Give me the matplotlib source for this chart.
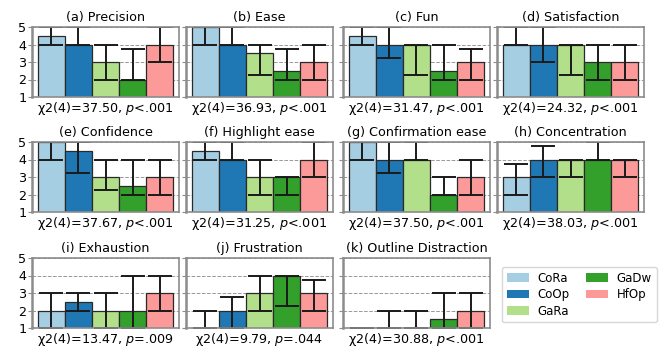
import matplotlib

matplotlib.use("Agg")

import matplotlib.pyplot as plt
import numpy as np
from matplotlib.patches import Patch

conditions = ["CoRa", "CoOp", "GaRa", "GaDw", "HfOp"]
colors = ["#a6cee3", "#1f78b4", "#b2df8a", "#33a02c", "#fb9a99"]

titles = [
    "(a) Precision", "(b) Ease", "(c) Fun", "(d) Satisfaction",
    "(e) Confidence", "(f) Highlight ease", "(g) Confirmation ease", "(h) Concentration",
    "(i) Exhaustion", "(j) Frustration", "(k) Outline Distraction",
]
chi2 = ["37.50", "36.93", "31.47", "24.32", "37.67", "31.25", "37.50", "38.03", "13.47", "9.79", "30.88"]
pvals = ["<.001", "<.001", "<.001", "<.001", "<.001", "<.001", "<.001", "<.001", "=.009", "=.044", "<.001"]

# medians per condition
medians = [
    [4.5, 4, 3, 2, 4],
    [5, 4, 3.5, 2.5, 3],
    [4.5, 4, 4, 2.5, 3],
    [4, 4, 4, 3, 3],
    [5, 4.5, 3, 2.5, 3],
    [4.5, 4, 3, 3, 4],
    [5, 4, 4, 2, 3],
    [3, 4, 4, 4, 4],
    [2, 2.5, 2, 2, 3],
    [1, 2, 3, 4, 3],
    [1, 1, 1, 1.5, 2],
]
# interquartile range ends
q1 = [
    [4, 4, 2, 2, 3],
    [4, 4, 2.25, 2, 2],
    [4, 3.25, 2.25, 2, 2],
    [4, 3, 2.25, 2, 2],
    [4, 3.25, 2.25, 2, 2],
    [4, 4, 2, 2, 3],
    [4, 3.25, 4, 2, 2],
    [2, 3, 3, 4, 3],
    [1, 2, 1, 1, 2],
    [1, 1, 2, 2.25, 2],
    [1, 1, 1, 1, 1],
]
q3 = [
    [5, 5, 4, 3.75, 5],
    [5, 5, 4, 3.75, 4],
    [5, 5, 4, 4, 3.75],
    [5, 5, 4, 4, 4],
    [5, 5, 4, 4, 4],
    [5, 5, 4, 3, 5],
    [5, 5, 5, 3, 4],
    [3.75, 4.75, 4, 5, 4],
    [3, 3, 3, 4, 4],
    [2, 2.75, 4, 4, 3.75],
    [1, 2, 2, 3, 3],
]

W, H = 659, 348
fig = plt.figure(figsize=(W / 100, H / 100), dpi=100)

col_left = [32, 186, 343, 497]
row_top = [27, 142, 258]
ax_w, ax_h = 147, 70
fs = 9.2

x = np.arange(len(conditions))
for i, title in enumerate(titles):
    r, c = divmod(i, 4)
    ax = fig.add_axes([col_left[c] / W, 1 - (row_top[r] + ax_h) / H, ax_w / W, ax_h / H])
    med = np.array(medians[i])
    err = [med - np.array(q1[i]), np.array(q3[i]) - med]
    ax.bar(x, med, width=1.0, color=colors, edgecolor="#2a2a2a", linewidth=0.9, zorder=2)
    ax.errorbar(x, med, yerr=err, fmt="none", ecolor="#1a1a1a", elinewidth=1.4,
                capsize=8.4, capthick=1.4, zorder=2.2)
    ax.set_xlim(-0.72, 4.72)
    ax.set_ylim(1, 5)
    ax.set_yticks([1, 2, 3, 4, 5])
    ax.set_xticks([])
    ax.grid(axis="y", linestyle="--", color="#999999", linewidth=0.7, zorder=0)
    ax.set_axisbelow(True)
    for s in ax.spines.values():
        s.set_color("#8c8c8c")
        s.set_linewidth(1.2)
    ax.spines["left"].set_linewidth(1.8)
    ax.tick_params(axis="y", color="#8c8c8c", length=3, labelsize=fs, pad=1)
    if c != 0:
        ax.set_yticklabels([])
    ax.set_title(title, fontsize=fs, pad=4)
    ax.set_xlabel(f"χ2(4)={chi2[i]}, $p${pvals[i]}", fontsize=fs, labelpad=2)

handles = [Patch(facecolor=col, label=lab) for col, lab in zip(colors, conditions)]
fig.legend(handles=handles, ncol=2, loc="upper left", bbox_to_anchor=(496 / W, 1 - 261 / H),
           fontsize=8.5, frameon=True, edgecolor="#cccccc", handlelength=1.9,
           handletextpad=0.7, columnspacing=1.4, borderpad=0.4, labelspacing=0.3)

fig.savefig("out.png", dpi=100)
